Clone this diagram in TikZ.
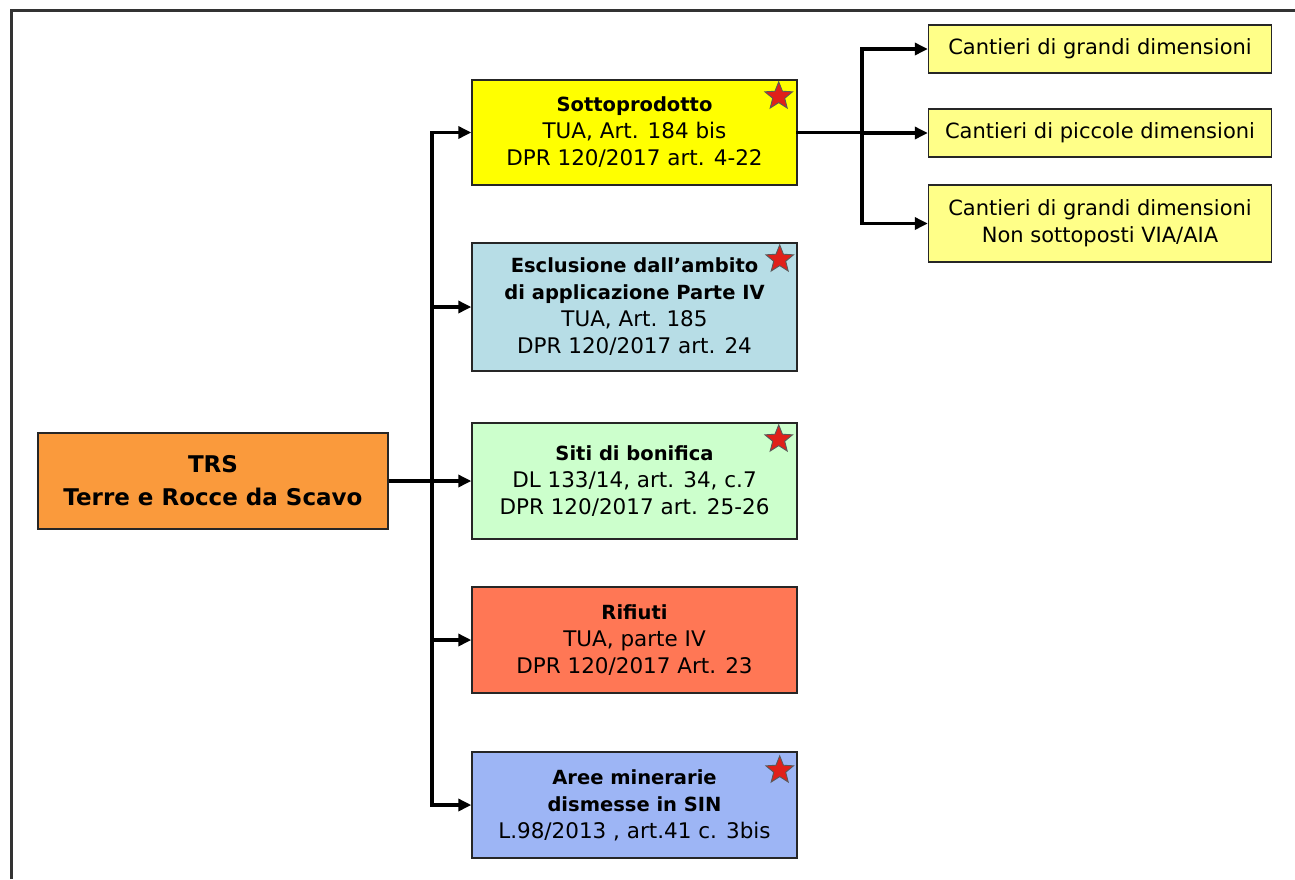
\documentclass[tikz,border=0pt]{standalone}
\usepackage{fontspec}
\setmainfont{DejaVu Sans}
\usetikzlibrary{shapes.geometric,arrows.meta}
\definecolor{cOrange}{HTML}{FA9A3C}
\definecolor{cYellow}{HTML}{FFFF00}
\definecolor{cLy}{HTML}{FFFF88}
\definecolor{cBlueL}{HTML}{B7DDE6}
\definecolor{cGreen}{HTML}{CCFFCC}
\definecolor{cSalmon}{HTML}{FF7755}
\definecolor{cBlue}{HTML}{9DB5F5}
\definecolor{cStar}{HTML}{E0201A}
\newcommand{\ttl}[1]{{\bfseries\fontsize{19.5}{27}\selectfont #1}}
\begin{document}
\begin{tikzpicture}[x=1pt,y=-1pt,
  box/.style={draw=black!85,line width=1.4pt,minimum width=325pt,align=center,inner sep=2pt,
    font=\fontsize{21.5}{27}\selectfont},
  sbox/.style={draw=black!85,line width=1.4pt,fill=cLy,minimum width=343pt,align=center,inner sep=2pt,
    font=\fontsize{21}{27}\selectfont},
  link/.style={line width=3.4pt,black,line cap=rect},
  arr/.style={line width=3.4pt,black,-{Triangle[length=13pt,width=12pt]}},
  redstar/.style={star,star points=5,star point ratio=2.3,minimum size=29pt,inner sep=0pt,
    fill=cStar,draw=black!65,line width=0.9pt},
  frame/.style={line width=3pt,black!80}]
\useasboundingbox (0,0) rectangle (1295,879);
\draw[frame] (11,879) -- (11,10) -- (1295,10);

% main node
\node[box,fill=cOrange,minimum width=350pt,minimum height=96pt,font=\bfseries\fontsize{23}{33}\selectfont]
  (trs) at (213,481) {TRS\\Terre e Rocce da Scavo};

% category boxes
\node[box,fill=cYellow,minimum height=105pt] (sotto) at (634.5,132.5)
  {\ttl{Sottoprodotto}\\TUA, Art. 184 bis\\DPR 120/2017 art. 4-22};
\node[box,fill=cBlueL,minimum height=128pt] (escl) at (634.5,307)
  {\ttl{Esclusione dall'ambito}\\\ttl{di applicazione Parte IV}\\TUA, Art. 185\\DPR 120/2017 art. 24};
\node[box,fill=cGreen,minimum height=116pt] (siti) at (634.5,481)
  {\ttl{Siti di bonifica}\\DL 133/14, art. 34, c.7\\DPR 120/2017 art. 25-26};
\node[box,fill=cSalmon,minimum height=106pt] (rif) at (634.5,640)
  {\ttl{Rifiuti}\\TUA, parte IV\\DPR 120/2017 Art. 23};
\node[box,fill=cBlue,minimum height=106pt] (aree) at (634.5,805)
  {\ttl{Aree minerarie}\\\ttl{dismesse in SIN}\\L.98/2013 , art.41 c. 3bis};

% stars
\node[redstar] (s1) at ([shift={(-19,17)}]sotto.north east) {};
\node[redstar] (s2) at ([shift={(-18,17)}]escl.north east) {};
\node[redstar] (s3) at ([shift={(-19,17)}]siti.north east) {};
\node[redstar] (s4) at ([shift={(-18,19)}]aree.north east) {};

% right boxes
\node[sbox,minimum height=48pt] (c1) at (1100,49) {Cantieri di grandi dimensioni};
\node[sbox,minimum height=48pt] (c2) at (1100,133) {Cantieri di piccole dimensioni};
\node[sbox,minimum height=77pt] (c3) at (1100,223.5) {Cantieri di grandi dimensioni\\Non sottoposti VIA/AIA};

% trunk connectors
\coordinate (tr) at (432,481);
\draw[link] (tr |- sotto.west) -- (tr |- aree.west);
\draw[arr] (trs.east) -- (siti.west);
\draw[arr] (tr |- sotto.west) -- (sotto.west);
\draw[arr] (tr |- escl.west) -- (escl.west);
\draw[arr] (tr |- rif.west) -- (rif.west);
\draw[arr] (tr |- aree.west) -- (aree.west);

% fork connectors
\coordinate (fk) at (862,132.5);
\draw[link] (sotto.east) -- (fk);
\draw[link] (fk |- c1.west) -- (fk |- c3.west);
\draw[arr] (fk |- c1.west) -- (c1.west);
\draw[arr] (fk |- c2.west) -- (c2.west);
\draw[arr] (fk |- c3.west) -- (c3.west);
\end{tikzpicture}
\end{document}
